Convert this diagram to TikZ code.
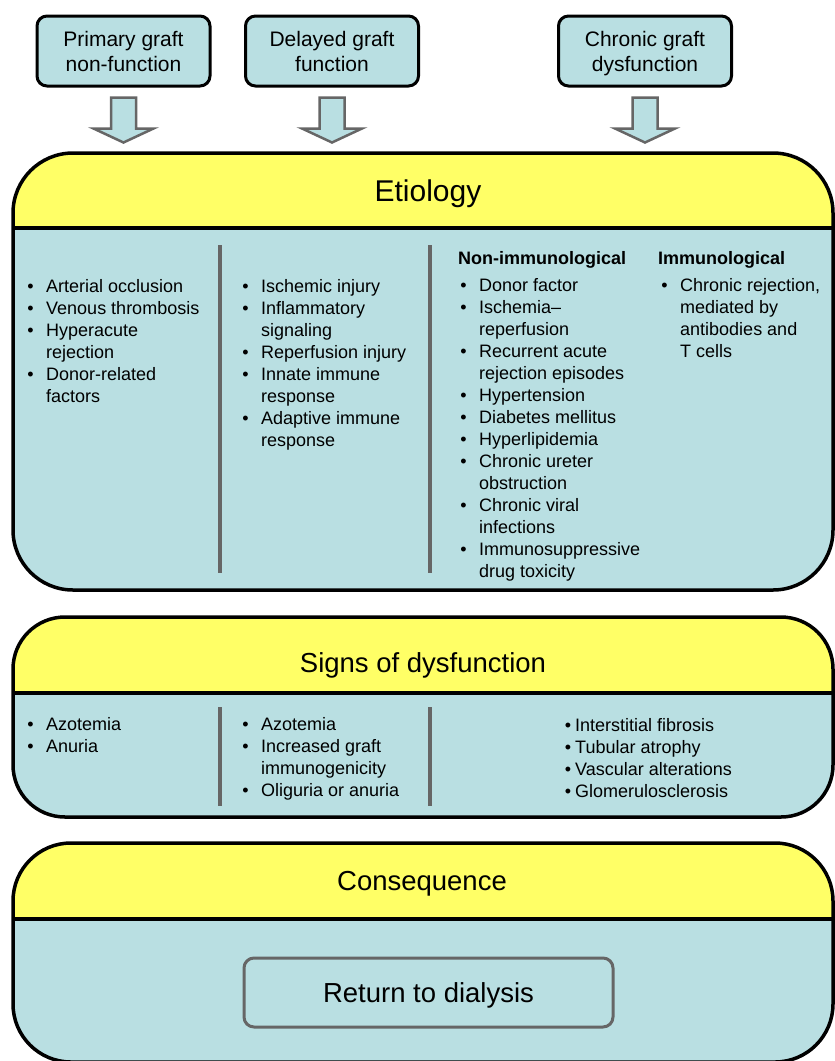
\documentclass[tikz,border=0pt]{standalone}
\usepackage{fontspec}
\setmainfont{Liberation Sans}
\usetikzlibrary{calc}
\definecolor{pyel}{HTML}{FFFF66}
\definecolor{pblu}{HTML}{B9DFE2}
\definecolor{pgry}{HTML}{666666}
\newcommand{\mybul}{\llap{\textbullet\hspace{12.5pt}}}
\newcommand{\mybulb}{\llap{\textbullet\hspace{4pt}}}
\tikzset{
 topbox/.style={draw=black, line width=3pt, fill=pblu, rounded corners=10pt, minimum width=173pt, minimum height=70pt, align=center, inner sep=0pt, text depth=0pt, font=\fontsize{21}{25}\selectfont},
 body/.style={anchor=base west, inner sep=0pt, font=\fontsize{18}{22}\selectfont},
 head/.style={anchor=base west, inner sep=0pt, font=\fontsize{18}{22}\selectfont\bfseries},
 ptitle/.style={anchor=base, inner sep=0pt, font=\fontsize{27.5}{33}\selectfont},
 blockarrow/.style={draw=pgry, line width=2.5pt, fill=pblu, line join=miter},
 coldiv/.style={draw=pgry, line width=4pt},
 pborder/.style={draw=black, line width=3.5pt},
 retbox/.style={draw=pgry, line width=3pt, fill=pblu, rounded corners=10pt, minimum width=369pt, minimum height=69pt, inner sep=0pt, text depth=0pt, font=\fontsize{27.5}{33}\selectfont},
}
\begin{document}
\begin{tikzpicture}[x=1pt,y=-1pt]
\useasboundingbox (0,0) rectangle (835,1061);
% ---------- top boxes ----------
\node[topbox] (b1) at (123.5,51) {Primary graft\\non-function};
\node[topbox] (b2) at (332,51) {Delayed graft\\function};
\node[topbox] (b3) at (645,51) {Chronic graft\\dysfunction};
\foreach \b in {b1,b2,b3}
  \draw[blockarrow] ($(\b.south)+(-12.5,10)$) -- ++(0,31) -- ++(-17.5,0)
     -- ($(\b.south)+(0,55)$) -- ($(\b.south)+(30,41)$) -- ++(-17.5,0) -- ++(0,-31) -- cycle;
% ---------- Etiology panel ----------
\path[fill=pblu, rounded corners=60pt] (13,153) rectangle (833,590);
\begin{scope}
  \clip (0,140) rectangle (835,228);
  \path[fill=pyel, rounded corners=60pt] (13,153) rectangle (833,590);
\end{scope}
\draw[pborder] (13,228) -- (833,228);
\draw[pborder, rounded corners=60pt] (13,153) rectangle (833,590);
\node[ptitle, font=\fontsize{30}{36}\selectfont] (etio) at (428,201) {Etiology};
\draw[coldiv] (219.5,245) -- (219.5,573);
\draw[coldiv] (430,245) -- (430,573);
\foreach \t [count=\i from 0] in {{\mybul Arterial occlusion},{\mybul Venous thrombosis},{\mybul Hyperacute},{rejection},{\mybul Donor-related},{factors}}
  \node[body] (ea\i) at (46,292+22*\i) {\t};
\foreach \t [count=\i from 0] in {{\mybul Ischemic injury},{\mybul Inflammatory},{signaling},{\mybul Reperfusion injury},{\mybul Innate immune},{response},{\mybul Adaptive immune},{response}}
  \node[body] (eb\i) at (261,292+22*\i) {\t};
\node[head] (nonimm) at (458,264) {Non-immunological};
\foreach \t [count=\i from 0] in {{\mybul Donor factor},{\mybul Ischemia–},{reperfusion},{\mybul Recurrent acute},{rejection episodes},{\mybul Hypertension},{\mybul Diabetes mellitus},{\mybul Hyperlipidemia},{\mybul Chronic ureter},{obstruction},{\mybul Chronic viral},{infections},{\mybul Immunosuppressive},{drug toxicity}}
  \node[body] (ec\i) at (479,291+22*\i) {\t};
\node[head] (imm) at (658,264) {Immunological};
\foreach \t [count=\i from 0] in {{\mybul Chronic rejection,},{mediated by},{antibodies and},{T cells}}
  \node[body] (ed\i) at (680,291+22*\i) {\t};
% ---------- Signs panel ----------
\path[fill=pblu, rounded corners=52pt] (13,617) rectangle (833,817);
\begin{scope}
  \clip (0,600) rectangle (835,693);
  \path[fill=pyel, rounded corners=52pt] (13,617) rectangle (833,817);
\end{scope}
\draw[pborder] (13,693) -- (833,693);
\draw[pborder, rounded corners=52pt] (13,617) rectangle (833,817);
\node[ptitle] (signs) at (423,672) {Signs of dysfunction};
\draw[coldiv] (220,707) -- (220,806);
\draw[coldiv] (430,707) -- (430,806);
\foreach \t [count=\i from 0] in {{\mybul Azotemia},{\mybul Anuria}}
  \node[body] (sa\i) at (46,730+22*\i) {\t};
\foreach \t [count=\i from 0] in {{\mybul Azotemia},{\mybul Increased graft},{immunogenicity},{\mybul Oliguria or anuria}}
  \node[body] (sb\i) at (261,730+22*\i) {\t};
\foreach \t [count=\i from 0] in {{\mybulb Interstitial fibrosis},{\mybulb Tubular atrophy},{\mybulb Vascular alterations},{\mybulb Glomerulosclerosis}}
  \node[body] (sc\i) at (575,731+22.3*\i) {\t};
% ---------- Consequence panel ----------
\path[fill=pblu, rounded corners=58pt] (13,843) rectangle (833,1062);
\begin{scope}
  \clip (0,830) rectangle (835,919);
  \path[fill=pyel, rounded corners=58pt] (13,843) rectangle (833,1062);
\end{scope}
\draw[pborder] (13,919) -- (833,919);
\draw[pborder, rounded corners=58pt] (13,843) rectangle (833,1062);
\node[ptitle] (cons) at (422,890) {Consequence};
\node[retbox] (ret) at (428.5,992.5) {Return to dialysis};
\end{tikzpicture}
\end{document}
